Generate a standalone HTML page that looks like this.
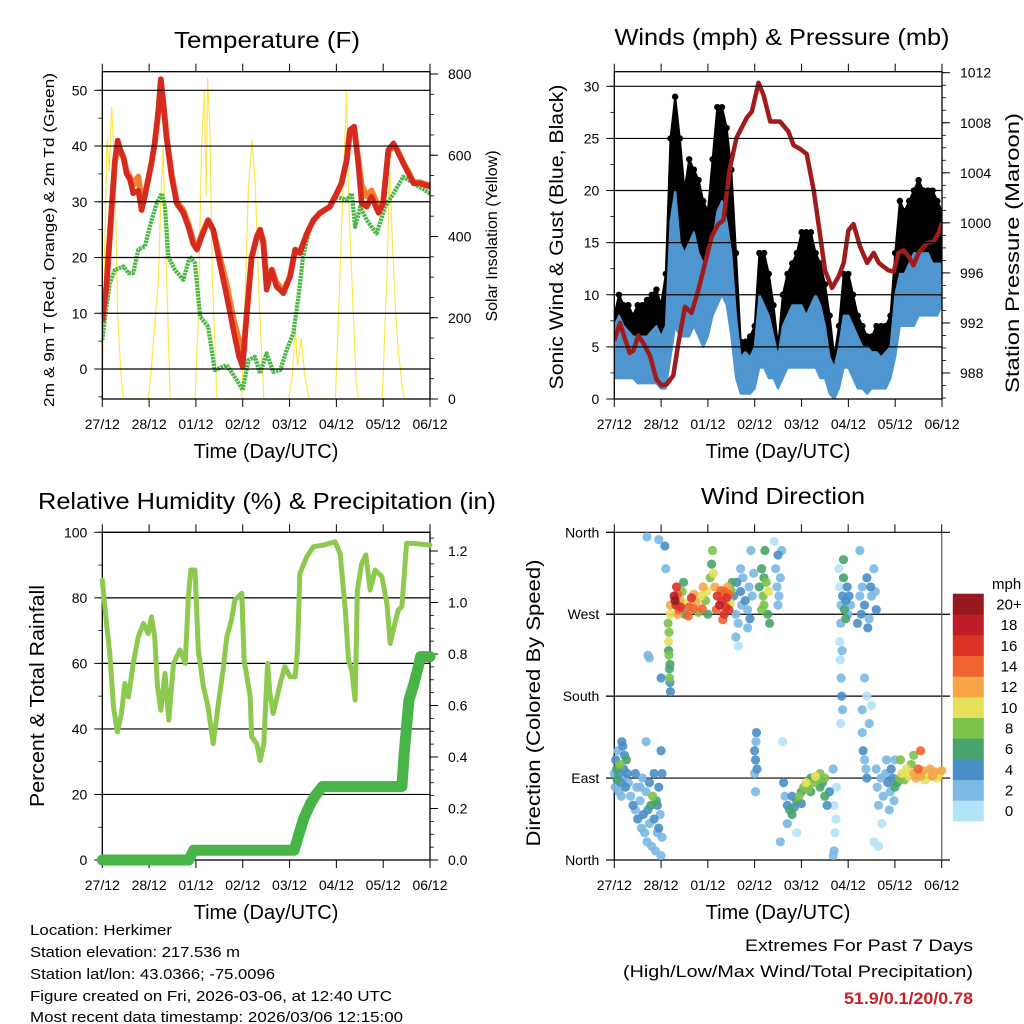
<!DOCTYPE html>
<html><head><meta charset="utf-8"><style>
html,body{margin:0;padding:0;background:#fff;}
svg{display:block;font-family:"Liberation Sans",sans-serif;}
</style></head><body>
<svg id="root" xmlns="http://www.w3.org/2000/svg" width="1024" height="1024" viewBox="0 0 1024 1024">
<rect x="0" y="0" width="1024" height="1024" fill="#fff"/>
<defs>
<clipPath id="c1"><rect x="102.3" y="71.7" width="327.7" height="327.3"/></clipPath>
<clipPath id="c2"><rect x="614.3" y="71.7" width="327.7" height="327.3"/></clipPath>
<clipPath id="c3"><rect x="96" y="525" width="340" height="342"/></clipPath>
<clipPath id="c4"><rect x="606" y="528" width="346" height="336"/></clipPath>
</defs>
<text x="267" y="48" font-size="23" text-anchor="middle" textLength="186" lengthAdjust="spacingAndGlyphs">Temperature (F)</text>
<text x="782" y="45" font-size="23" text-anchor="middle" textLength="335" lengthAdjust="spacingAndGlyphs">Winds (mph) &amp; Pressure (mb)</text>
<text x="267" y="509" font-size="23" text-anchor="middle" textLength="458" lengthAdjust="spacingAndGlyphs">Relative Humidity (%) &amp; Precipitation (in)</text>
<text x="783" y="504" font-size="23" text-anchor="middle" textLength="164" lengthAdjust="spacingAndGlyphs">Wind Direction</text>
<text x="266" y="458" font-size="20" text-anchor="middle">Time (Day/UTC)</text>
<text x="778" y="458" font-size="20" text-anchor="middle">Time (Day/UTC)</text>
<text x="266" y="919" font-size="20" text-anchor="middle">Time (Day/UTC)</text>
<text x="778" y="919" font-size="20" text-anchor="middle">Time (Day/UTC)</text>
<text transform="translate(54,240) rotate(-90)" font-size="15" text-anchor="middle" textLength="334" lengthAdjust="spacingAndGlyphs">2m &amp; 9m T (Red, Orange) &amp; 2m Td (Green)</text>
<text transform="translate(497,236) rotate(-90)" font-size="16" text-anchor="middle">Solar Insolation (Yellow)</text>
<text transform="translate(563,237) rotate(-90)" font-size="19" text-anchor="middle" textLength="305" lengthAdjust="spacingAndGlyphs">Sonic Wind &amp; Gust (Blue, Black)</text>
<text transform="translate(1019,253) rotate(-90)" font-size="19" text-anchor="middle" textLength="280" lengthAdjust="spacingAndGlyphs">Station Pressure (Maroon)</text>
<text transform="translate(44,696) rotate(-90)" font-size="20" text-anchor="middle" textLength="222" lengthAdjust="spacingAndGlyphs">Percent &amp; Total Rainfall</text>
<text transform="translate(540,703) rotate(-90)" font-size="19" text-anchor="middle" textLength="287" lengthAdjust="spacingAndGlyphs">Direction (Colored By Speed)</text>
<g font-size="15">
<text x="30" y="935" textLength="142" lengthAdjust="spacingAndGlyphs">Location: Herkimer</text>
<text x="30" y="957" textLength="210" lengthAdjust="spacingAndGlyphs">Station elevation: 217.536 m</text>
<text x="30" y="979" textLength="245" lengthAdjust="spacingAndGlyphs">Station lat/lon: 43.0366; -75.0096</text>
<text x="30" y="1001" textLength="362" lengthAdjust="spacingAndGlyphs">Figure created on Fri, 2026-03-06, at 12:40 UTC</text>
<text x="30" y="1022" textLength="373" lengthAdjust="spacingAndGlyphs">Most recent data timestamp: 2026/03/06 12:15:00</text>
</g>
<text x="973" y="951" font-size="17" text-anchor="end" textLength="228" lengthAdjust="spacingAndGlyphs">Extremes For Past 7 Days</text>
<text x="973" y="977" font-size="17" text-anchor="end" textLength="350" lengthAdjust="spacingAndGlyphs">(High/Low/Max Wind/Total Precipitation)</text>
<text x="973" y="1004" font-size="17" font-weight="bold" fill="#c8202a" text-anchor="end" textLength="129" lengthAdjust="spacingAndGlyphs">51.9/0.1/20/0.78</text>
<text x="992" y="589" font-size="15">mph</text>
</svg>
<script>
// ---------- DATA ----------
const dayLabels = ['27/12','28/12','01/12','02/12','03/12','04/12','05/12','06/12'];
const tempTicks = [0,10,20,30,40,50];
const solarTicks = [0,200,400,600,800];
const windTicks = [0,5,10,15,20,25,30];
const presTicks = [988,992,996,1000,1004,1008,1012];
const rhTicks = [0,20,40,60,80,100];
const rainTicks = [0.0,0.2,0.4,0.6,0.8,1.0,1.2];
const dirTicks = [0,90,180,270,360];
const dirLabels = ['North','East','South','West','North'];
const speedBinLabels = ['0','2','4','6','8','10','12','14','16','18','20+'];
const speedColors = ['#b3e3f7','#7bb8e3','#4a8ec6','#48a36c','#7dc24b','#e5e05a','#f6a647','#ef6330','#dc3327','#c01e26','#961a1d'];

const tempDays = [0,.09,.2,.27,.33,.38,.45,.52,.59,.66,.77,.84,.91,.98,1.05,1.12,1.2,1.25,1.3,1.37,1.48,1.59,1.73,1.84,1.94,2.02,2.12,2.26,2.37,2.51,2.66,2.8,2.92,3.0,3.08,3.19,3.3,3.37,3.44,3.51,3.62,3.72,3.87,4.01,4.12,4.22,4.37,4.51,4.65,4.86,4.97,5.11,5.22,5.29,5.38,5.46,5.54,5.65,5.75,5.9,6.0,6.11,6.22,6.29,6.43,6.54,6.65,6.79,7.0];
const temp2m = [8.5,15,29,37.5,41,39.5,38,35,34,31.5,32,28.5,31,34,37,40.5,46.5,52,48,41.7,34.5,29.7,28,25.5,22.5,21.4,23.7,26.7,25,19,13,7,2.2,0.4,9.4,20,23.7,25,22.5,14.2,17.8,14.8,13.6,16.6,21.4,20.8,24.3,26.7,28,29.1,30.9,33.3,37.5,42.9,43.5,37.5,29.7,29.1,30.9,28,29.7,39.3,40.5,39.3,36.9,35.1,33.3,33.3,32.7];
const temp9m = [8.5,15,29,37,40,39,38,35.5,34.5,33,34.5,30,31.5,34,37,40.5,46.5,52,48,42,35,30,28.5,26,23,21.8,24,26.7,25,20,15,9,5,1.5,9.4,20,23.7,25,23,16,17.8,15.5,14,16.6,21.4,21,24.3,26.7,28,29.1,30.9,33.3,37.5,42.5,43,38,33,31,32,29,30,39,40,39.5,37,35.3,33.5,33.5,32.9];
const dewDays = [0,.06,.16,.27,.45,.56,.66,.77,.91,1.05,1.16,1.27,1.34,1.41,1.55,1.73,1.87,1.98,2.09,2.26,2.4,2.66,2.87,3.0,3.12,3.26,3.37,3.51,3.65,3.8,3.94,4.08,4.19,4.29,4.44,4.65,4.86,5.01,5.22,5.33,5.4,5.51,5.65,5.86,6.04,6.22,6.43,6.65,7.0];
const dewPoint = [5.2,9.4,15.4,17.8,18.4,17.2,17.2,21.4,22,26.7,29.7,31.5,29.1,20.2,17.8,16,20.2,19,9.4,7.6,-0.2,0.7,-2,-3.8,1.6,2.2,-0.8,2.8,-0.5,-0.2,3.4,6.4,13,20.2,25.5,28,29.1,30.9,30.3,31.5,25.5,29.1,26.7,24.3,29.1,31.5,34.5,33.3,31.5];
const solarDays = [0,.05,.1,.15,.2,.25,.28,.33,.4,.45,.98,1.05,1.12,1.2,1.25,1.3,1.33,1.38,1.45,1.98,2.05,2.12,2.18,2.22,2.25,2.3,2.35,2.45,2.98,3.05,3.12,3.2,3.27,3.35,3.45,3.98,4.06,4.12,4.17,4.25,4.32,4.42,4.98,5.06,5.12,5.22,5.26,5.33,5.42,5.47,5.98,6.08,6.14,6.2,6.25,6.32,6.4,6.45,7];
const solarVals = [0,350,640,560,720,600,500,200,60,0,0,80,180,300,500,620,450,280,0,0,200,620,760,500,790,650,300,0,0,250,520,640,520,250,0,0,60,180,80,150,60,0,0,250,450,760,500,300,50,0,0,300,560,380,250,120,40,0,0];

const windDays = [0,.1,.2,.3,.4,.5,.6,.7,.8,.9,1,1.1,1.2,1.3,1.4,1.5,1.6,1.7,1.8,1.9,2,2.1,2.2,2.3,2.4,2.5,2.6,2.7,2.8,2.9,3,3.1,3.2,3.3,3.4,3.5,3.6,3.7,3.8,3.9,4,4.1,4.2,4.3,4.4,4.5,4.6,4.7,4.8,4.9,5,5.1,5.2,5.3,5.4,5.5,5.6,5.7,5.8,5.9,6,6.1,6.2,6.3,6.4,6.5,6.6,6.7,6.8,6.9,7];
const windLo = [2,2,2,2,2,1.5,1.5,1.5,1.5,1.5,1,1,4,7,6,6,6,7,6,5,6,8,9,10,9,6,2,0.5,0.5,0.5,1,3,3,2,2,1,2,3,3,3,3,3,3,3,2,2,0.5,0,1,3,3,2,1,1,0.5,1,1,1,1,2,4,7,7,7,7,8,8,8,8,8,9];
const windHi = [7,8,7,6.5,6,6,6,6,6.5,7,6,7,17,20,15,14,15,16,14,13,14,15,18,19,17,14,8,4,4.5,4,5,10,9,8,6,4,7,8,9,9,9,8,9,10,9,7,4,3,5,8,8,7,6,5,5,4.5,4.5,4,4.5,5,10,12,12,13,14,14,14,14,13,13,13];
const gustLo = [4,5,5,4.5,4,4,4,4,4,5,3,3,10,13,10,11,13,14,12,10,11,12,14,15,14,10,4,1.5,2,2,3,6,6,4,3,2.5,4,6,6,7,7,7,7,6,5,4,2,1,2,6,6,4,3,3,2,2,2,2,3,4,6,10,10,10,10,11,11,11,11,11,11];
const gustHi = [8,10,9,9,8,9,9,9.5,10,10.5,9,12,25,29,25,20,23,22,21,19,18,23,28,28,26,22,14,5.5,5.5,6,7,14,14,12,9,5,10,12,13,14,16,16,16,14,13,11,8,4,7,12,12,10,8,7,6,6,7,7,7,8,14,19,18,19,20,21,20,20,20,19,18];
const presDays = [0,.12,.23,.33,.41,.51,.62,.76,.9,1.01,1.12,1.26,1.37,1.51,1.65,1.8,1.94,2.08,2.22,2.33,2.47,2.61,2.83,2.94,3.08,3.19,3.33,3.54,3.72,3.83,3.97,4.11,4.26,4.4,4.5,4.65,4.79,4.9,5.0,5.11,5.25,5.4,5.54,5.65,5.75,5.86,5.97,6.07,6.18,6.29,6.39,6.5,6.68,6.82,6.93,7.0];
const pressure = [990.6,992.0,990.7,989.6,989.8,991.0,990.4,989.4,987.5,987.0,987.1,987.8,990.4,993.3,992.8,994.7,996.8,998.9,999.9,1000.2,1004.4,1006.8,1008.4,1008.9,1011.2,1010.2,1008.1,1008.1,1007.3,1006.2,1005.9,1005.5,1002.6,998.9,996.2,994.8,995.7,996.8,999.4,999.9,998.1,996.8,997.6,996.8,996.5,996.2,996.1,997.6,997.8,997.3,996.6,997.6,998.4,998.5,999.2,1000.0];

const rhDays = [0,.09,.16,.24,.32,.41,.48,.56,.66,.77,.88,.98,1.05,1.12,1.18,1.25,1.34,1.42,1.52,1.66,1.77,1.84,1.89,1.98,2.05,2.16,2.26,2.37,2.48,2.59,2.66,2.76,2.83,2.98,3.03,3.16,3.19,3.3,3.37,3.45,3.53,3.58,3.65,3.8,3.9,4.01,4.12,4.17,4.22,4.37,4.51,4.72,4.97,5.08,5.19,5.26,5.33,5.4,5.45,5.54,5.63,5.72,5.83,5.97,6.08,6.15,6.25,6.32,6.4,6.5,6.65,7.0];
const rhVals = [85.4,72.2,63,46.7,39.1,44.7,53.9,49.8,60,68.1,72.2,69.1,74.2,68.1,52.9,45.7,56.9,42.7,60,64.1,60,80.3,88.5,88.5,64.1,52.9,46.7,35.5,47.8,59,68.1,73.2,79.3,81.4,61,49.8,37.6,35.5,30.4,35.5,60,50.8,44.7,53.9,59,55.9,55.9,64.1,87.5,92.6,95.6,96.1,97.1,93.6,76.3,61,57.9,48.8,82.4,90.5,93.1,82.4,88.5,86.5,78.3,66.1,72.2,76.3,77.4,96.6,96.6,96.1];
const rainDays = [0,1.85,1.95,4.1,4.2,4.3,4.45,4.55,4.7,6.4,6.45,6.55,6.65,6.75,6.8,7.0];
const rainVals = [0,0,0.038,0.038,0.1,0.16,0.22,0.25,0.285,0.285,0.42,0.62,0.68,0.75,0.79,0.79];

const dirDays = [0,0.02,0.03,0.05,0.06,0.08,0.1,0.1,0.12,0.14,0.16,0.18,0.2,0.22,0.24,0.26,0.28,0.3,0.22,0.15,
0.35,0.4,0.45,0.48,0.5,0.55,0.58,0.6,0.62,0.65,0.68,0.7,0.72,0.75,0.78,0.8,0.82,0.85,0.88,0.9,0.92,0.95,0.98,1.0,1.02,0.68,0.45,0.55,0.75,0.85,0.92,1.0,1.02,0.95,
1.15,1.16,1.17,1.18,1.19,1.2,1.17,1.18,1.16,1.19,1.2,1.2,
1.28,1.3,1.32,1.35,1.38,1.4,1.45,1.5,1.55,1.6,1.65,1.7,1.75,1.8,1.85,1.9,1.95,2.0,2.05,2.08,2.1,2.12,2.15,2.2,2.25,2.3,2.35,2.38,2.4,2.42,2.45,2.48,2.5,2.52,1.33,1.36,1.42,1.58,1.7,1.88,1.98,2.18,2.28,2.35,2.45,2.32,1.48,
2.55,2.6,2.62,2.65,2.7,2.72,2.75,2.8,2.85,2.88,2.9,2.95,2.98,2.6,2.65,2.85,2.92,2.7,
3.1,3.15,3.18,3.2,3.22,3.25,3.28,3.3,3.32,3.2,3.15,
3.42,3.45,3.48,3.5,3.52,3.55,3.58,3.5,
3.0,3.02,3.03,3.05,3.0,3.02,3.04,
3.55,3.6,3.62,3.65,3.7,3.75,3.8,3.85,3.9,3.95,4.0,4.05,4.1,4.15,4.2,4.25,4.3,4.35,4.4,4.45,4.5,4.55,4.6,3.8,4.0,4.2,4.4,4.5,3.7,3.9,
4.68,4.7,4.72,4.75,4.7,4.74,4.68,
4.8,4.82,4.85,4.88,4.9,4.92,4.95,4.98,5.0,5.02,4.9,4.95,5.05,4.84,
4.82,4.83,4.85,4.86,4.88,4.84,4.87,
5.2,5.25,5.28,5.3,5.35,5.4,5.45,5.5,5.55,5.6,5.25,5.42,5.48,5.58,
5.3,5.32,5.35,5.38,5.4,5.45,5.3,5.4,5.35,5.5,
5.6,5.62,5.65,5.7,5.72,5.75,5.8,5.82,5.85,5.88,5.9,5.92,5.95,5.98,6.0,5.55,5.65,
6.0,6.05,6.1,6.15,6.2,6.25,6.3,6.35,6.4,6.45,6.5,6.55,6.6,6.65,6.7,6.75,6.8,6.85,6.9,6.95,7.0,6.12,6.4,6.55,
0.7,0.95,1.08,1.1,0.72,0.75,1.0];
const dirVals = [95,80,110,100,88,120,95,75,105,85,130,125,100,90,80,110,95,85,115,70,
70,60,55,80,45,65,35,90,50,30,75,20,55,40,60,15,70,45,10,65,30,80,50,5,25,130,95,80,85,95,60,120,95,35,
260,240,225,210,195,185,250,200,230,215,270,280,
290,285,280,292,275,286,295,270,282,278,288,276,283,272,290,300,285,270,310,325,340,315,300,290,280,285,295,278,288,300,292,282,296,305,300,270,278,268,292,276,295,275,296,270,275,264,305,
290,270,305,260,295,280,310,285,275,300,265,290,315,245,235,255,340,320,
300,320,290,280,340,305,270,295,260,310,275,
350,320,300,335,290,310,340,280,
120,110,130,100,95,75,140,
20,130,85,70,60,55,50,58,65,70,75,80,85,78,90,85,92,88,95,85,70,60,75,70,62,75,80,90,40,30,
100,60,30,80,10,45,5,
320,300,280,290,310,275,285,300,270,290,330,265,280,260,
240,220,200,180,165,150,230,
260,290,270,300,280,310,265,290,320,275,340,255,300,295,
140,120,110,100,90,150,165,180,200,170,
100,80,60,90,40,70,95,110,85,55,75,100,90,65,110,20,15,
80,85,90,95,88,100,92,105,95,90,100,92,98,88,95,100,92,97,90,95,98,110,115,120,
355,352,345,320,225,222,200];
const dirSpeeds = [3,2,4,6,7,3,5,3,8,4,5,5,4,3,4,6,4,3,4,2,
3,4,3,2,4,3,2,2,4,3,3,2,4,3,6,2,8,4,3,7,2,4,3,3,3,2,4,3,4,4,4,4,4,4,
9,10,8,6,5,4,9,8,7,6,10,12,
18,20,16,15,14,12,8,6,10,14,16,14,12,8,10,12,8,6,8,7,8,10,12,16,18,16,14,16,17,12,14,10,8,6,17,13,16,14,12,14,10,15,15,16,17,14,6,
4,3,4,2,4,3,2,4,3,2,4,2,3,2,1,2,2,2,
7,6,8,9,6,8,7,10,6,7,8,
1,2,3,4,3,2,2,2,
4,4,3,4,2,3,4,
2,1,4,3,5,6,6,5,7,8,6,9,10,8,7,9,10,9,8,7,6,4,5,4,5,6,7,8,2,1,
2,1,0,1,2,1,3,
1,1,3,4,6,7,5,4,3,4,7,6,3,2,
1,1,2,4,3,1,2,
4,3,4,3,4,4,2,3,2,4,2,4,4,2,
3,4,3,2,4,2,2,1,2,1,
3,2,2,3,1,2,3,2,4,2,3,4,4,3,2,1,1,
6,7,8,10,9,11,10,9,12,13,14,12,12,11,10,12,13,12,11,10,12,8,9,14,
2,3,4,2,2,3,4];

// ---------- HELPERS ----------
const NS = 'http://www.w3.org/2000/svg';
const root = document.getElementById('root');
function mk(tag, attrs, parent) {
  const e = document.createElementNS(NS, tag);
  for (const k in attrs) e.setAttribute(k, attrs[k]);
  (parent || root).appendChild(e);
  return e;
}
function lin(d0, d1, r0, r1) { return v => r0 + (v - d0) / (d1 - d0) * (r1 - r0); }
function pathFrom(xs, ys, fx, fy) {
  return xs.map((x, i) => (i ? 'L' : 'M') + fx(x).toFixed(1) + ',' + fy(ys[i]).toFixed(1)).join('');
}

function buildFrame(p) {
  const g = mk('g', {});
  
  
  p.grid.forEach(v => {
    const y = p.yL(v);
    const ln = mk('line', {x1: p.gx0 || p.x0, x2: p.gx1 || p.x1, y1: y, y2: y, stroke: '#000', 'stroke-width': 1.2}, g);
    
    
  });
  if (p.box) {
    const r = mk('rect', {x: p.x0, y: p.y0, width: p.x1 - p.x0, height: p.y1 - p.y0, fill: 'none', stroke: '#000', 'stroke-width': 1.3}, g);
    
    
  } else {
    const l = mk('line', {x1: p.x0, x2: p.x0, y1: p.y0, y2: p.y1, stroke: '#000', 'stroke-width': 1.3}, g);
    
    
    const r = mk('line', {x1: p.x1, x2: p.x1, y1: p.y0, y2: p.y1, stroke: '#666', 'stroke-width': 1.3}, g);
    
    
  }
  dayLabels.forEach((lab, i) => {
    const x = p.xs(i);
    const t1 = mk('line', {x1: x, x2: x, y1: p.y0 - 8, y2: p.y0, stroke: '#000', 'stroke-width': 1}, g);
    
    
    const t2 = mk('line', {x1: x, x2: x, y1: p.y1, y2: p.y1 + 8, stroke: '#000', 'stroke-width': 1}, g);
    
    
    const tx = mk('text', {x: x, y: p.y1 + 30, 'font-size': 14, 'text-anchor': 'middle'}, g);
    
    
    tx.textContent = lab;
  });
  p.leftTicks.forEach((v, i) => {
    const y = p.yL(v);
    const t = mk('line', {x1: p.x0 - 8, x2: p.x0, y1: y, y2: y, stroke: '#000', 'stroke-width': 1}, g);
    
    
    const tx = mk('text', {x: p.x0 - 15, y: y + 5, 'font-size': 14, 'text-anchor': 'end'}, g);
    
    
    tx.textContent = p.leftLabels ? p.leftLabels[i] : v;
  });
  (p.leftMinor || []).forEach(v => {
    const y = p.yL(v);
    const t = mk('line', {x1: p.x0 - 4, x2: p.x0, y1: y, y2: y, stroke: '#000', 'stroke-width': 0.8}, g);
    
    
  });
  if (p.yR) {
    p.rightTicks.forEach(v => {
      const y = p.yR(v);
      const t = mk('line', {x1: p.x1, x2: p.x1 + 8, y1: y, y2: y, stroke: '#000', 'stroke-width': 1}, g);
      
      
      const tx = mk('text', {x: p.x1 + 18, y: y + 5, 'font-size': 14}, g);
      
      
      tx.textContent = p.rightFmt ? p.rightFmt(v) : v;
    });
    (p.rightMinor || []).forEach(v => {
      const y = p.yR(v);
      const t = mk('line', {x1: p.x1, x2: p.x1 + 4, y1: y, y2: y, stroke: '#000', 'stroke-width': 0.8}, g);
      
      
    });
  }
}
function range(a, b, s) { const r = []; for (let v = a; v <= b + 1e-9; v += s) r.push(+v.toFixed(4)); return r; }

// ---------- PANEL 1 : TEMPERATURE ----------
const x1 = lin(0, 7, 102.3, 430);
const yT = lin(0, 50, 369, 90.3);
const yS = lin(0, 800, 399, 74);
const p1 = {name: 'temperature', x0: 102.3, x1: 430, y0: 71.7, y1: 399, xs: x1, yL: yT, yR: yS, grid: tempTicks, box: true,
  leftTicks: tempTicks, leftMinor: range(-5, 50, 5), rightTicks: solarTicks, rightMinor: range(0, 800, 50)};
const g1 = mk('g', {'clip-path': 'url(#c1)'});


let e;
e = mk('path', {d: pathFrom(solarDays, solarVals, x1, yS), fill: 'none', stroke: '#fde64b', 'stroke-width': 1.2}, g1);


e = mk('path', {d: pathFrom(dewDays, dewPoint, x1, yT), fill: 'none', stroke: '#4cb548', 'stroke-width': 4.2, 'stroke-dasharray': '2.5 0.8', 'stroke-linejoin': 'round'}, g1);


e = mk('path', {d: pathFrom(tempDays, temp9m, x1, yT), fill: 'none', stroke: '#f57c2a', 'stroke-width': 6, 'stroke-linejoin': 'round'}, g1);


e = mk('path', {d: pathFrom(tempDays, temp2m, x1, yT), fill: 'none', stroke: '#d42a20', 'stroke-width': 5.5, 'stroke-linejoin': 'round'}, g1);


buildFrame(p1);

// ---------- PANEL 2 : WINDS ----------
const x2 = lin(0, 7, 614.3, 942);
const yW = lin(0, 30, 399, 86.3);
const yP = lin(988, 1012, 373, 72.7);
const p2 = {name: 'winds', x0: 614.3, x1: 942, y0: 71.7, y1: 399, xs: x2, yL: yW, yR: yP, grid: windTicks.slice(1), box: true,
  leftTicks: windTicks, leftMinor: range(0, 30, 2.5), rightTicks: presTicks, rightMinor: range(986, 1012, 1)};
const g2 = mk('g', {'clip-path': 'url(#c2)'});


function bandPath(xs, lo, hi, fx, fy) {
  let d = xs.map((x, i) => (i ? 'L' : 'M') + fx(x).toFixed(1) + ',' + fy(hi[i]).toFixed(1)).join('');
  for (let i = xs.length - 1; i >= 0; i--) d += 'L' + fx(xs[i]).toFixed(1) + ',' + fy(lo[i]).toFixed(1);
  return d + 'Z';
}
e = mk('path', {d: bandPath(windDays, gustLo, gustHi, x2, yW), fill: '#000', stroke: '#000', 'stroke-width': 2, 'stroke-linejoin': 'round'}, g2);


windDays.forEach((t, i) => {
  const c = mk('circle', {cx: x2(t), cy: yW(gustHi[i]), r: 3.2, fill: '#000'}, g2);
  
  
});
e = mk('path', {d: bandPath(windDays, windLo, windHi, x2, yW), fill: '#4f95d0', stroke: '#4f95d0', 'stroke-width': 2, 'stroke-linejoin': 'round'}, g2);


e = mk('path', {d: pathFrom(presDays, pressure, x2, yP), fill: 'none', stroke: '#a01c1c', 'stroke-width': 4.5, 'stroke-linejoin': 'round'}, g2);


buildFrame(p2);

// ---------- PANEL 3 : RH ----------
const x3 = lin(0, 7, 102.3, 430);
const yH = lin(0, 100, 860, 532.3);
const yR3 = lin(0, 0.4, 860, 757);
const p3 = {name: 'humidity', x0: 102.3, x1: 430, y0: 532.3, y1: 860, xs: x3, yL: yH, yR: yR3, grid: rhTicks.slice(1), box: true,
  leftTicks: rhTicks, leftMinor: range(0, 100, 10), rightTicks: rainTicks, rightFmt: v => v.toFixed(1), rightMinor: range(0, 1.25, 0.05)};
buildFrame(p3);
const g3 = mk('g', {'clip-path': 'url(#c3)'});


e = mk('path', {d: pathFrom(rhDays, rhVals, x3, yH), fill: 'none', stroke: '#8dc94e', 'stroke-width': 5, 'stroke-linejoin': 'round', 'stroke-linecap': 'round'}, g3);


e = mk('path', {d: pathFrom(rainDays, rainVals, x3, yR3), fill: 'none', stroke: '#46b446', 'stroke-width': 11, 'stroke-linejoin': 'round', 'stroke-linecap': 'round'}, g3);



// ---------- PANEL 4 : DIRECTION ----------
const x4 = lin(0, 7, 614.3, 941.7);
const yD = lin(0, 360, 860, 532.3);
const p4 = {name: 'direction', x0: 614.3, x1: 941.7, y0: 532.3, y1: 860, gx0: 606, gx1: 950, xs: x4, yL: yD, grid: dirTicks, box: false,
  leftTicks: dirTicks, leftLabels: dirLabels};
buildFrame(p4);
const g4 = mk('g', {'clip-path': 'url(#c4)', 'fill-opacity': 0.9});


const order = dirDays.map((d, i) => i).sort((a, b) => dirSpeeds[a] - dirSpeeds[b]);
order.forEach(i => {
  const bin = Math.min(10, Math.floor(dirSpeeds[i] / 2));
  const c = mk('circle', {cx: x4(dirDays[i]), cy: yD(dirVals[i]), r: 4.6, fill: speedColors[bin]}, g4);
  
  
});
const lg = mk('g', {});


const binH = (821 - 593.7) / speedColors.length;
speedColors.forEach((col, i) => {
  const y = 821 - (i + 1) * binH;
  const r = mk('rect', {x: 952.8, y: y, width: 31, height: binH + 0.3, fill: col}, lg);
  
  
  const t = mk('text', {x: 1009, y: y + binH / 2 + 5.5, 'font-size': 15, 'text-anchor': 'middle'}, lg);
  
  
  t.textContent = speedBinLabels[i];
});
</script>
</body></html>
